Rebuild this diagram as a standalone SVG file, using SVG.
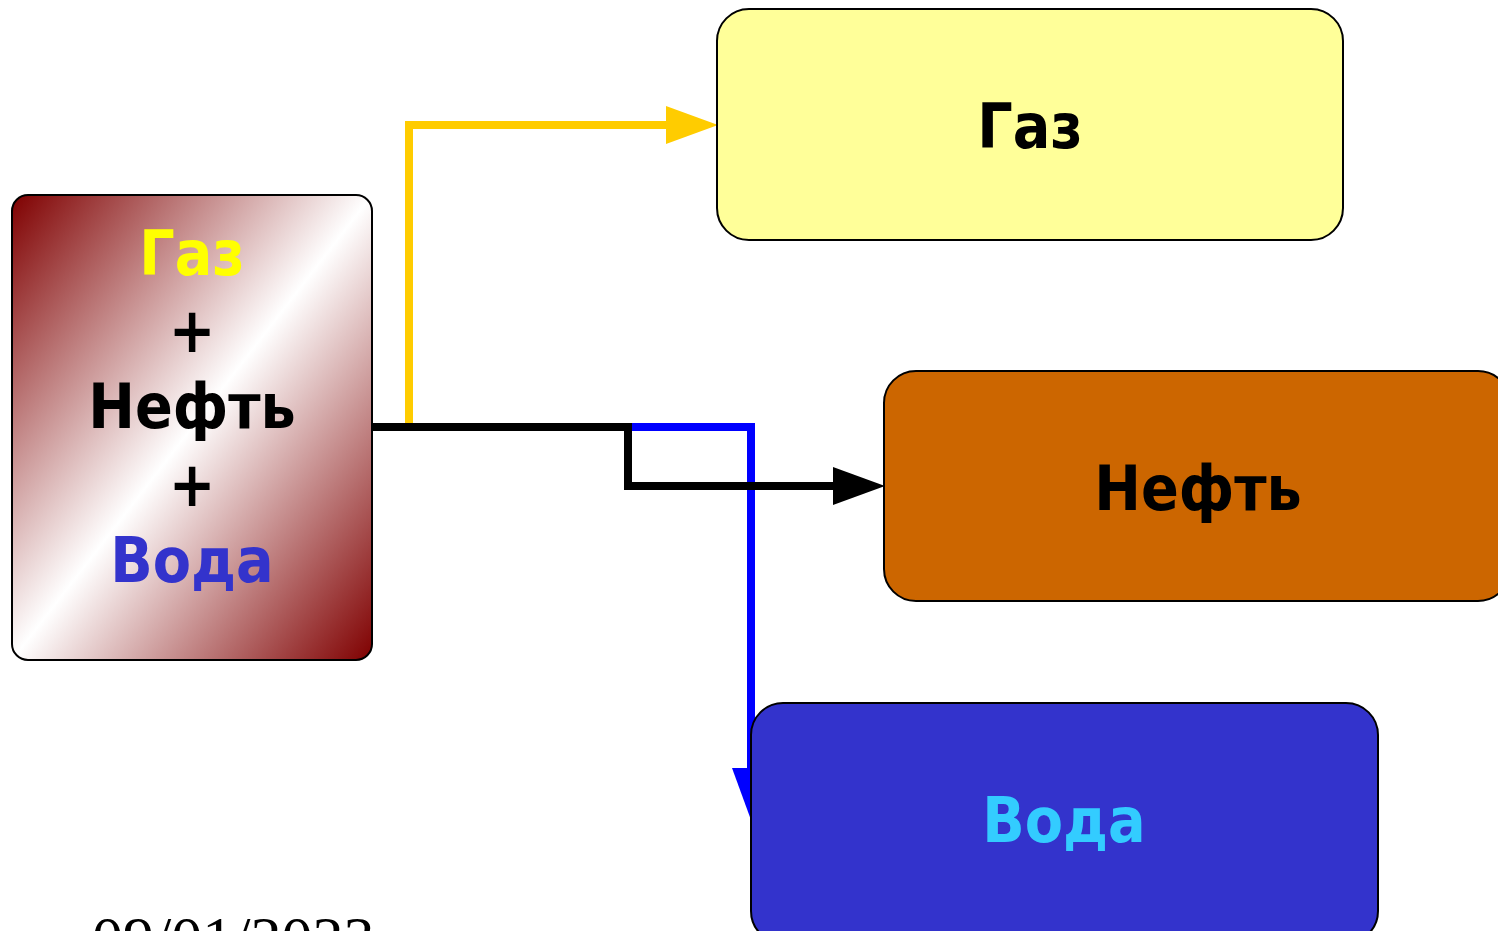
<svg xmlns="http://www.w3.org/2000/svg" width="1498" height="931" viewBox="0 0 1498 931">
<defs>
<linearGradient id="mix" x1="0" y1="0" x2="1" y2="1">
<stop offset="0" stop-color="#7f0000"/>
<stop offset="0.5" stop-color="#ffffff"/>
<stop offset="1" stop-color="#7f0000"/>
</linearGradient>
<marker id="ay" markerUnits="userSpaceOnUse" markerWidth="54" markerHeight="40" refX="0" refY="19" orient="auto"><path d="M0,0 L52,19 L0,38 Z" fill="#FFCC00"/></marker>
<marker id="ak" markerUnits="userSpaceOnUse" markerWidth="54" markerHeight="40" refX="0" refY="19" orient="auto"><path d="M0,0 L52,19 L0,38 Z" fill="#000"/></marker>
<marker id="ab" markerUnits="userSpaceOnUse" markerWidth="54" markerHeight="40" refX="0" refY="19" orient="auto"><path d="M0,0 L52,19 L0,38 Z" fill="#0000FF"/></marker>
</defs>
<style>
.lbl{font-family:"DejaVu Sans Condensed","DejaVu Sans",sans-serif;font-weight:bold;font-size:62px;text-anchor:middle}
.box{stroke:#000;stroke-width:2}
.c{fill:none;stroke-width:8}
</style>
<rect width="1498" height="931" fill="#fff"/>
<g id="connectors">
<path class="c" d="M409,428 V125 H666" stroke="#FFCC00" marker-end="url(#ay)"/>
<path class="c" d="M628,427 H751 V768" stroke="#0000FF" marker-end="url(#ab)"/>
<path class="c" d="M372,427 H628 V486 H833" stroke="#000" marker-end="url(#ak)"/>
</g>
<g id="mixture">
<rect class="box" x="12" y="195" width="360" height="465" rx="16" fill="url(#mix)"/>
<text class="lbl" x="192" y="275" fill="#FFFF00">Газ</text>
<text class="lbl" x="192" y="352" fill="#000">+</text>
<text class="lbl" x="192" y="428" fill="#000">Нефть</text>
<text class="lbl" x="192" y="506" fill="#000">+</text>
<text class="lbl" x="192" y="582" fill="#3333CC">Вода</text>
</g>
<g id="gas">
<rect class="box" x="717" y="9" width="626" height="231" rx="32" fill="#FFFF99"/>
<text class="lbl" x="1030" y="148" fill="#000">Газ</text>
</g>
<g id="oil">
<rect class="box" x="884" y="371" width="626" height="230" rx="32" fill="#CC6600"/>
<text class="lbl" x="1198" y="510" fill="#000">Нефть</text>
</g>
<g id="water">
<rect class="box" x="751" y="703" width="627" height="240" rx="32" fill="#3333CC"/>
<text class="lbl" x="1064" y="842" fill="#33CCFF">Вода</text>
</g>
<text x="92" y="959" font-family="Liberation Serif, serif" font-size="62" fill="#000">09/01/2023</text>
</svg>
